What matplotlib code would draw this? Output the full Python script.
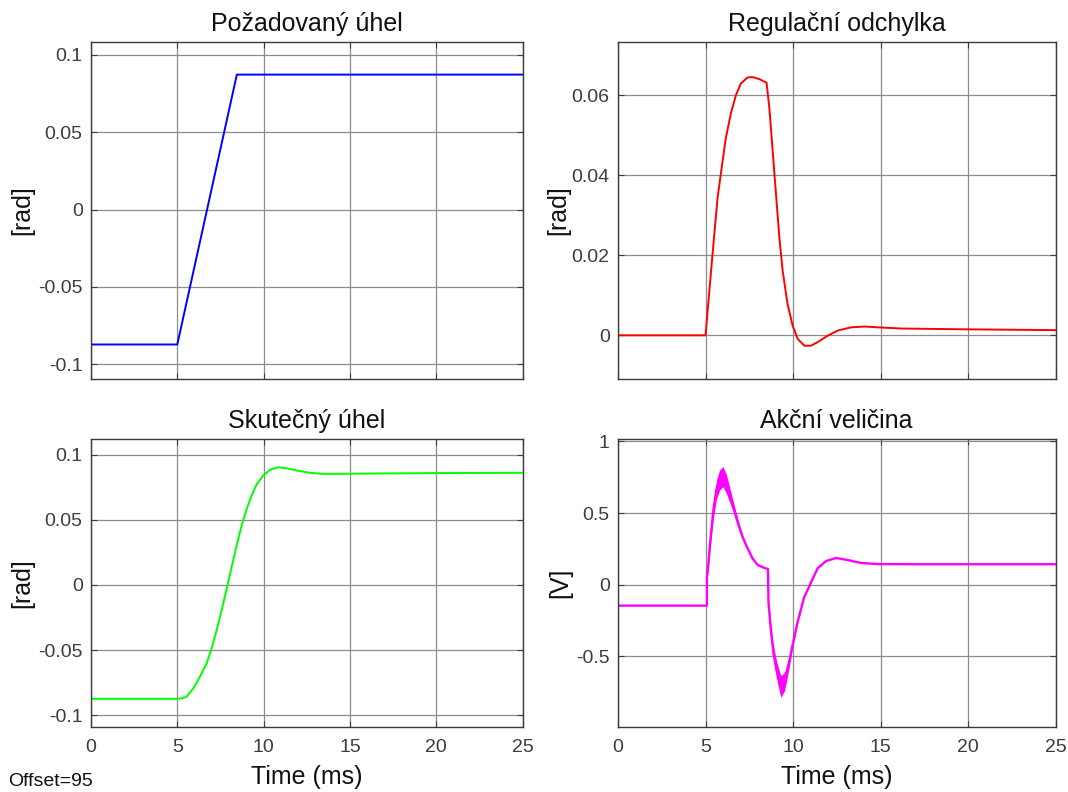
import matplotlib
matplotlib.use("Agg")
import matplotlib.pyplot as plt
import numpy as np

plt.rcParams['font.family'] = ['Liberation Sans', 'DejaVu Sans']
plt.rcParams['axes.unicode_minus'] = False

# ---------------- data ----------------
# Desired angle (rad)
t_ref = [0, 5.0, 8.45, 25]
ref = [-0.0873, -0.0873, 0.0873, 0.0873]

# Control error (rad)
t_err = [0, 5.0, 5.4, 5.69, 5.92, 6.16, 6.45, 6.74, 7.02, 7.40, 7.69, 8.07, 8.49,
         8.65, 8.84, 9.03, 9.22, 9.41, 9.69, 9.98, 10.27, 10.65, 11.03, 11.41,
         11.98, 12.56, 13.32, 14.08, 14.85, 16.2, 18.0, 20.0, 22.5, 25.0]
err = [0, 0, 0.0202, 0.0344, 0.0418, 0.0493, 0.0555, 0.0601, 0.0630, 0.0645,
       0.0646, 0.0641, 0.0632, 0.0568, 0.0460, 0.0352, 0.0244, 0.0161, 0.0078,
       0.0024, -0.0009, -0.0026, -0.0026, -0.0017, -0.0001, 0.0012, 0.0020,
       0.0022, 0.0020, 0.0017, 0.0016, 0.0015, 0.0014, 0.0013]

# Actual angle (rad)
t_act = [0, 5.0, 5.25, 5.54, 5.93, 6.31, 6.70, 6.99, 7.28, 7.57, 7.86, 8.15, 8.44,
         8.73, 9.02, 9.31, 9.59, 9.98, 10.37, 10.85, 11.33, 11.91, 12.68, 13.45,
         14.42, 16.7, 20.0, 25.0]
act = [-0.0873, -0.0873, -0.0870, -0.0857, -0.0793, -0.0704, -0.0602, -0.0487,
       -0.0347, -0.0194, -0.0028, 0.0138, 0.0304, 0.0457, 0.0584, 0.0686, 0.0770,
       0.0839, 0.0883, 0.0903, 0.0895, 0.0878, 0.0860, 0.0852, 0.0852, 0.0855,
       0.0858, 0.0860]

# Actuating value (V): centre line and ripple half-width
t_u = [0, 5.08, 5.08, 5.15, 5.30, 5.46, 5.62, 5.80, 6.00, 6.20, 6.40, 6.60, 6.83,
       7.11, 7.40, 7.68, 7.97, 8.25, 8.57, 8.60, 8.73, 8.88, 9.07, 9.30, 9.50,
       9.65, 9.80, 9.96, 10.25, 10.63, 10.97, 11.41, 11.89, 12.46, 13.13, 13.89,
       14.85, 17.0, 20.0, 25.0]
u = [-0.146, -0.146, 0.046, 0.13, 0.34, 0.53, 0.66, 0.73, 0.755, 0.70, 0.62, 0.54,
     0.44, 0.336, 0.255, 0.185, 0.139, 0.123, 0.109, -0.127, -0.31, -0.475, -0.60,
     -0.71, -0.68, -0.61, -0.53, -0.43, -0.266, -0.09, 0.0, 0.115, 0.165, 0.187,
     0.172, 0.152, 0.144, 0.143, 0.143, 0.143]
u_ripple = [0, 0, 0, 0.03, 0.045, 0.055, 0.065, 0.07, 0.07, 0.065, 0.05, 0.035, 0.025,
            0.012, 0, 0, 0, 0, 0, 0.03, 0.04, 0.05, 0.06, 0.075, 0.065, 0.05, 0.035,
            0.02, 0.008, 0, 0, 0, 0, 0, 0, 0, 0, 0, 0, 0]

titles = ["Požadovaný úhel", "Regulační odchylka", "Skutečný úhel", "Akční veličina"]
ylabels = ["[rad]", "[rad]", "[rad]", "[V]"]
xticks = [0, 5, 10, 15, 20, 25]

# ---------------- figure ----------------
W, H = 1068, 792
fig = plt.figure(figsize=(W / 100, H / 100), dpi=100)

def px_axes(l, r, t, b):
    return fig.add_axes([l / W, (H - b) / H, (r - l) / W, (b - t) / H])

ax_tl = px_axes(91, 522.5, 42.3, 378.5)
ax_tr = px_axes(618, 1055.5, 42.3, 378.5)
ax_bl = px_axes(91, 522.5, 439.3, 726.7)
ax_br = px_axes(618, 1055.5, 439.3, 726.7)

axes = [ax_tl, ax_tr, ax_bl, ax_br]
tick_col = '#3c3c3c'
lw = 1.4

ax_tl.plot(t_ref, ref, color=(0, 0, 1), lw=lw)
ax_tr.plot(t_err, err, color=(1, 0, 0), lw=lw)
ax_bl.plot(t_act, act, color=(0, 1, 0), lw=lw)
u_arr = np.array(u)
r_arr = np.array(u_ripple)
ax_br.fill_between(t_u, u_arr - r_arr, u_arr + r_arr, color=(1, 0, 1), lw=0)
ax_br.plot(t_u, u, color=(1, 0, 1), lw=1.7)

ax_tl.set_ylim(-0.1093, 0.1082)
ax_tl.set_yticks([-0.1, -0.05, 0, 0.05, 0.1])
ax_tl.set_yticklabels(["-0.1", "-0.05", "0", "0.05", "0.1"])
ax_tr.set_ylim(-0.0108, 0.0733)
ax_tr.set_yticks([0, 0.02, 0.04, 0.06])
ax_tr.set_yticklabels(["0", "0.02", "0.04", "0.06"])
ax_bl.set_ylim(-0.1087, 0.1117)
ax_bl.set_yticks([-0.1, -0.05, 0, 0.05, 0.1])
ax_bl.set_yticklabels(["-0.1", "-0.05", "0", "0.05", "0.1"])
ax_br.set_ylim(-0.991, 1.015)
ax_br.set_yticks([-0.5, 0, 0.5, 1])
ax_br.set_yticklabels(["-0.5", "0", "0.5", "1"])

ylab_x = [-0.132, -0.110, -0.132, -0.105]
for i, ax in enumerate(axes):
    ax.set_xlim(0, 25)
    ax.set_xticks(xticks)
    ax.grid(True, color='#8c8c8c', lw=0.9)
    ax.set_axisbelow(True)
    for s in ax.spines.values():
        s.set_color('#3a3a3a')
        s.set_linewidth(1.0)
    ax.tick_params(direction='in', length=4, width=0.8, colors=tick_col,
                   labelsize=14, top=True, right=True, pad=6)
    ax.tick_params(axis='x', pad=9)
    ax.set_title(titles[i], fontsize=18, color='#111111', pad=8)
    ax.set_ylabel(ylabels[i], fontsize=18, color='#111111')
    ax.yaxis.set_label_coords(ylab_x[i], 0.5)
    if i < 2:
        ax.set_xticklabels([])
    else:
        ax.set_xticklabels([str(x) for x in xticks])
        ax.set_xlabel("Time (ms)", fontsize=18, color='#111111', labelpad=6)

fig.text(8 / W, (H - 786) / H, "Offset=95", fontsize=14, color='#111111',
         ha='left', va='baseline')

fig.savefig("out.png", dpi=100, facecolor='white')
